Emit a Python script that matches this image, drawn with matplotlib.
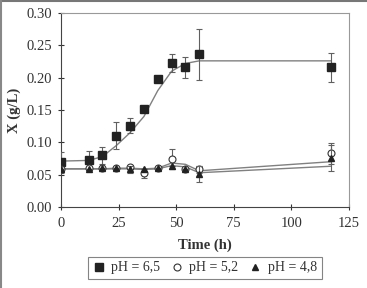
"""X (g/L) versus time at three pH values"""
import matplotlib
matplotlib.use('Agg')
import matplotlib.pyplot as plt
from matplotlib.lines import Line2D

plt.rcParams['font.family'] = ['Liberation Serif', 'DejaVu Serif']

time_h = [0, 12, 18, 24, 30, 36, 42, 48, 54, 60, 117]

# pH 6,5
x_65 = [0.069, 0.073, 0.080, 0.110, 0.126, 0.152, 0.198, 0.222, 0.216, 0.236, 0.216]
err_65 = [0.016, 0.013, 0.013, 0.021, 0.012, 0.0, 0.0, 0.014, 0.016, 0.039, 0.022]
fit_65 = [0.071, 0.072, 0.078, 0.095, 0.115, 0.140, 0.180, 0.210, 0.222, 0.226, 0.226]

# pH 5,2
x_52 = [0.058, 0.060, 0.060, 0.061, 0.062, 0.052, 0.061, 0.074, 0.058, 0.058, 0.083]
err_52 = [0.0, 0.0, 0.0, 0.0, 0.0, 0.007, 0.0, 0.015, 0.0, 0.005, 0.016]
fit_52 = [0.059, 0.059, 0.059, 0.060, 0.060, 0.059, 0.060, 0.068, 0.066, 0.056, 0.070]

# pH 4,8
x_48 = [0.058, 0.059, 0.060, 0.061, 0.058, 0.058, 0.061, 0.063, 0.058, 0.051, 0.076]
err_48 = [0.0, 0.0, 0.0, 0.0, 0.006, 0.0, 0.0, 0.0, 0.0, 0.012, 0.020]
fit_48 = [0.059, 0.059, 0.059, 0.059, 0.059, 0.058, 0.059, 0.064, 0.062, 0.053, 0.063]

labels = ['pH = 6,5', 'pH = 5,2', 'pH = 4,8']

fig = plt.figure(figsize=(3.67, 2.88), dpi=100)
ax = fig.add_axes([61 / 367, 1 - 207 / 288, 288 / 367, 194 / 288])

line_col = '#808080'
ax.plot(time_h, fit_65, color=line_col, lw=1.0, zorder=2)
ax.plot(time_h, fit_52, color=line_col, lw=1.0, zorder=2)
ax.plot(time_h, fit_48, color=line_col, lw=1.0, zorder=2)

eb = dict(ecolor='#606060', elinewidth=0.8, capsize=2.5, capthick=0.8, ls='none')
sq = dict(marker='s', ms=5.2, mfc='#222222', mec='#222222')
ci = dict(marker='o', ms=5, mfc='white', mec='#333333', mew=0.8)
tr = dict(marker='^', ms=5, mfc='#222222', mec='#222222')
ax.errorbar(time_h, x_65, yerr=err_65, zorder=3, **sq, **eb)
ax.errorbar(time_h, x_52, yerr=err_52, zorder=4, **ci, **eb)
ax.errorbar(time_h, x_48, yerr=err_48, zorder=5, **tr, **eb)

ax.set_xlim(0, 125)
ax.set_ylim(0, 0.30)
ax.set_xticks([0, 25, 50, 75, 100, 125])
ax.set_yticks([0.00, 0.05, 0.10, 0.15, 0.20, 0.25, 0.30])
ax.set_yticklabels(['%.2f' % v for v in ax.get_yticks()])
ax.tick_params(labelsize=10.5, colors='#333333', direction='inout', length=5,
               width=0.8)
ax.tick_params(axis='y', pad=4)
ax.tick_params(axis='x', pad=5)
for side in ['left', 'bottom']:
    ax.spines[side].set_color('#444444')
for side in ['top', 'right']:
    ax.spines[side].set_color('#999999')

ax.set_xlabel('Time (h)', fontsize=10.5, fontweight='bold', color='#333333',
              labelpad=6)
ax.set_ylabel('X (g/L)', fontsize=10.5, fontweight='bold', color='#333333',
              labelpad=4)

handles = [Line2D([], [], ls='none', **sq), Line2D([], [], ls='none', **ci),
           Line2D([], [], ls='none', **tr)]
leg = fig.legend(handles, labels, loc='center',
                 bbox_to_anchor=(205 / 367, 1 - 268 / 288),
                 ncol=3, fontsize=10, frameon=True, fancybox=False,
                 handlelength=0.8, handletextpad=0.5, columnspacing=0.8,
                 borderpad=0.35)
leg.get_frame().set_edgecolor('#666666')
leg.get_frame().set_linewidth(0.8)
for t in leg.get_texts():
    t.set_color('#333333')

# outer frame (top and left edges only)
fig.add_artist(Line2D([0, 1], [0.997, 0.997], transform=fig.transFigure,
                      color='#777777', lw=1.5))
fig.add_artist(Line2D([0.003, 0.003], [0, 1], transform=fig.transFigure,
                      color='#888888', lw=1.5))

fig.savefig('out.png', dpi=100)
